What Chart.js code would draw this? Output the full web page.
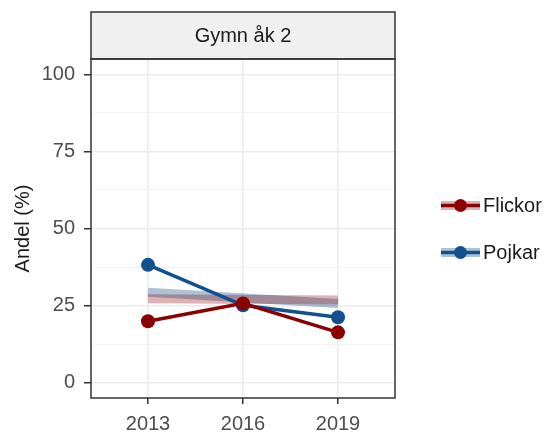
<!DOCTYPE html>
<html>
<head>
<meta charset="utf-8">
<script src="https://cdn.jsdelivr.net/npm/chart.js@4"></script>
<style>
  html, body { margin: 0; padding: 0; background: #fff; }
  #wrap { width: 551px; height: 433px; }
</style>
</head>
<body>
<div id="wrap"><canvas id="chart" width="551" height="433"></canvas></div>
<script>
// --- DATA ---
const years = [2013, 2016, 2019];
const flickor = [19.9, 25.7, 16.3];
const pojkar = [38.2, 25.1, 21.2];
// faint trend bands (start / end)
const trendYears = [2013, 2019];
const flickorTrend = [27.2, 26.8];
const pojkarTrend = [29.3, 25.7];
const yTicks = [0, 12.5, 25, 37.5, 50, 62.5, 75, 87.5, 100];
const panelTitle = 'Gymn åk 2';
const seriesNames = ['Flickor', 'Pojkar'];
const yTitle = 'Andel (%)';

const RED = '#8b0000';
const BLUE = '#10508f';
const FONT = "'Liberation Sans', Arial, sans-serif";
const FS = 20;

const toPts = (xs, ys) => xs.map((x, i) => ({ x, y: ys[i] }));

// strip + border + legend (ggplot-like decorations)
const facetPlugin = {
    id: 'facet',
    afterDraw(chart) {
        const { ctx, chartArea: a } = chart;
        ctx.save();
        // strip
        ctx.fillStyle = '#f0f0f0';
        ctx.fillRect(a.left, 12, a.right - a.left, a.top - 12);
        ctx.strokeStyle = '#333';
        ctx.lineWidth = 1.5;
        ctx.strokeRect(a.left, 12, a.right - a.left, a.top - 12);
        ctx.fillStyle = '#1a1a1a';
        ctx.font = FS + 'px ' + FONT;
        ctx.textAlign = 'center';
        ctx.textBaseline = 'middle';
        ctx.fillText(panelTitle, (a.left + a.right) / 2, (12 + a.top) / 2 + 1);
        // panel border
        ctx.strokeRect(a.left, a.top, a.right - a.left, a.bottom - a.top);

        // legend
        const cols = [[RED, 'rgba(139,0,0,0.3)'], [BLUE, 'rgba(16,80,143,0.35)']];
        const midY = (a.top + a.bottom) / 2;
        seriesNames.forEach((name, i) => {
            const y = midY + (i === 0 ? -23 : 24);
            const x0 = a.right + 46, x1 = a.right + 85;
            ctx.lineCap = 'butt';
            ctx.strokeStyle = cols[i][1];
            ctx.lineWidth = 9;
            ctx.beginPath(); ctx.moveTo(x0, y); ctx.lineTo(x1, y); ctx.stroke();
            ctx.strokeStyle = cols[i][0];
            ctx.lineWidth = 3.5;
            ctx.beginPath(); ctx.moveTo(x0, y); ctx.lineTo(x1, y); ctx.stroke();
            ctx.fillStyle = cols[i][0];
            ctx.beginPath(); ctx.arc((x0 + x1) / 2, y, 6.5, 0, Math.PI * 2); ctx.fill();
            ctx.fillStyle = '#1a1a1a';
            ctx.font = FS + 'px ' + FONT;
            ctx.textAlign = 'left';
            ctx.fillText(name, x1 + 3, y + 1);
        });
        ctx.restore();
    }
};

const ctx = document.getElementById('chart').getContext('2d');
new Chart(ctx, {
    type: 'line',
    data: {
        datasets: [
            { label: seriesNames[0], data: toPts(years, flickor), borderColor: RED, backgroundColor: RED,
              borderWidth: 3.5, pointRadius: 7, pointBorderWidth: 0, tension: 0 },
            { label: seriesNames[1], data: toPts(years, pojkar), borderColor: BLUE, backgroundColor: BLUE,
              borderWidth: 3.5, pointRadius: 7, pointBorderWidth: 0, tension: 0 },
            { label: 'trendF', data: toPts(trendYears, flickorTrend), borderColor: 'rgba(139,0,0,0.3)',
              borderWidth: 9, pointRadius: 0, borderCapStyle: 'butt' },
            { label: 'trendP', data: toPts(trendYears, pojkarTrend), borderColor: 'rgba(16,80,143,0.35)',
              borderWidth: 9, pointRadius: 0, borderCapStyle: 'butt' }
        ]
    },
    options: {
        responsive: false,
        animation: false,
        layout: { padding: { top: 59, right: 156, left: 0, bottom: 0 } },
        plugins: { legend: { display: false }, tooltip: { enabled: false } },
        scales: {
            x: {
                type: 'linear', min: 2011.2, max: 2020.8,
                afterBuildTicks: s => { s.ticks = years.map(v => ({ value: v })); },
                afterFit: s => { s.height = 35; },
                border: { display: false },
                grid: { color: '#ebebeb', lineWidth: 1.5, tickColor: '#333', tickLength: 6, drawTicks: true },
                ticks: { color: '#4d4d4d', font: { family: FONT, size: FS }, padding: 8, callback: v => String(v) }
            },
            y: {
                min: -5, max: 105,
                afterBuildTicks: s => { s.ticks = yTicks.map(v => ({ value: v })); },
                afterFit: s => { s.width = 91; },
                border: { display: false },
                grid: {
                    color: c => (c.tick && c.tick.value % 25 === 0) ? '#ebebeb' : '#f2f2f2',
                    lineWidth: c => (c.tick && c.tick.value % 25 === 0) ? 1.5 : 1,
                    tickColor: c => (c.tick && c.tick.value % 25 === 0) ? '#333' : 'rgba(0,0,0,0)',
                    tickLength: 7, drawTicks: true
                },
                ticks: {
                    color: '#4d4d4d', font: { family: FONT, size: FS }, padding: 9,
                    callback: v => (v % 25 === 0 ? String(v) : '')
                },
                title: { display: true, text: yTitle, color: '#1a1a1a', font: { family: FONT, size: FS }, padding: { top: 11, bottom: 0 } }
            }
        }
    },
    plugins: [facetPlugin]
});
</script>
</body>
</html>
